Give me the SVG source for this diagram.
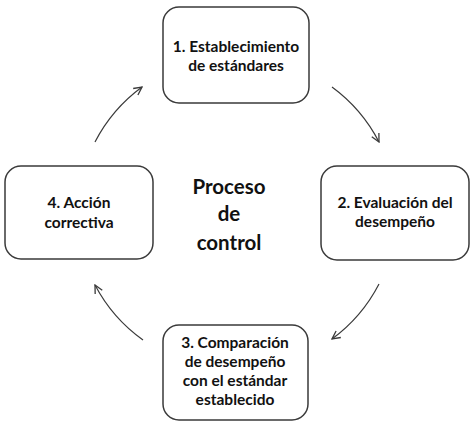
<svg xmlns="http://www.w3.org/2000/svg" width="474" height="423" viewBox="0 0 474 423">
<defs>
<style>
.box{fill:#fff;stroke:#3a3a3a;stroke-width:1.5}
.t{font-family:"Lato","Open Sans","Liberation Sans",sans-serif;font-weight:bold;font-size:15.5px;fill:#111;text-anchor:middle}
.c{font-family:"Lato","Open Sans","Liberation Sans",sans-serif;font-weight:bold;font-size:20.5px;fill:#111;text-anchor:middle}
.arc{fill:none;stroke:#3a3a3a;stroke-width:1.2;marker-end:url(#ah)}
</style>
<marker id="ah" viewBox="0 0 10 10" refX="9" refY="5" markerWidth="10" markerHeight="10" markerUnits="userSpaceOnUse" orient="auto">
<polyline points="1,1 9,5 1,9" fill="none" stroke="#3a3a3a" stroke-width="1.3"/>
</marker>
</defs>
<rect width="474" height="423" fill="#fff"/>
<g id="connectors">
<path class="arc" d="M95,142 A158,158 0 0 1 142,87"/>
<path class="arc" d="M332,87 A158,158 0 0 1 379,142"/>
<path class="arc" d="M379,284 A158,158 0 0 1 332,339"/>
<path class="arc" d="M143,340 A158,158 0 0 1 95,285"/>
</g>
<g id="n1">
<rect class="box" x="163" y="7" width="146" height="96" rx="16"/>
<text class="t" x="236" y="52">1. Establecimiento</text>
<text class="t" x="236" y="71">de estándares</text>
</g>
<g id="n2">
<rect class="box" x="321" y="166" width="148" height="94" rx="16"/>
<text class="t" x="395" y="208">2. Evaluación del</text>
<text class="t" x="395" y="227">desempeño</text>
</g>
<g id="n3">
<rect class="box" x="163" y="325" width="145" height="95" rx="16"/>
<text class="t" x="235" y="348">3. Comparación</text>
<text class="t" x="235" y="367">de desempeño</text>
<text class="t" x="235" y="386">con el estándar</text>
<text class="t" x="235" y="405">establecido</text>
</g>
<g id="n4">
<rect class="box" x="5" y="166" width="148" height="93" rx="16"/>
<text class="t" x="79" y="208">4. Acción</text>
<text class="t" x="79" y="228">correctiva</text>
</g>
<g id="center">
<text class="c" x="229" y="194">Proceso</text>
<text class="c" x="229" y="221">de</text>
<text class="c" x="229" y="250">control</text>
</g>
</svg>
